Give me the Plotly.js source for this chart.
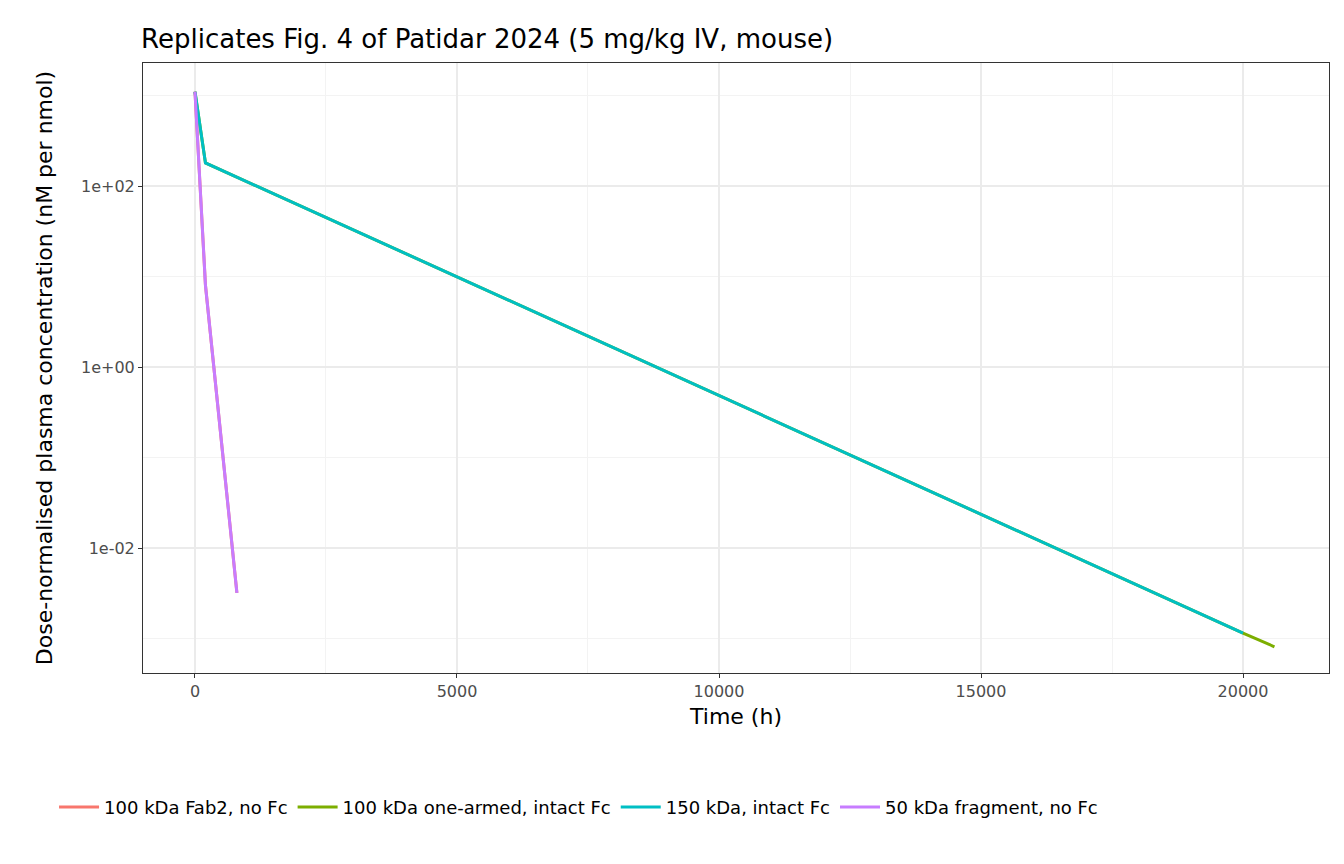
<html><head><script src="https://cdn.plot.ly/plotly-3.0.1.min.js"></script></head>
<body style="margin:0"><div id="chart" style="width:1344px;height:864px"></div>
<script>
var names = ["100 kDa Fab2, no Fc", "100 kDa one-armed, intact Fc", "150 kDa, intact Fc", "50 kDa fragment, no Fc"];
var colors = ["#F8766D", "#7CAE00", "#00BFC4", "#C77CFF"];
var tFab2 = [0, 200, 800];
var cFab2 = [1100, 8, 0.0032];
var tOneArm = [0, 200, 20000, 20600];
var cOneArm = [1100, 180, 0.00115, 0.00081];
var tIntact = [0, 200, 20000];
var cIntact = [1100, 180, 0.00115];
var tFrag = [0, 200, 800];
var cFrag = [1100, 8, 0.0032];
var xTicks = [0, 5000, 10000, 15000, 20000];

var xs = [tFab2, tOneArm, tIntact, tFrag];
var ys = [cFab2, cOneArm, cIntact, cFrag];
var data = names.map(function(n, i) {
  return {type: "scatter", mode: "lines", name: n, x: xs[i], y: ys[i],
    line: {color: colors[i], width: 3}};
});

var layout = {
  margin: {l: 143, r: 15, t: 63, b: 191, autoexpand: false},
  paper_bgcolor: "white", plot_bgcolor: "white",
  font: {family: "DejaVu Sans", size: 16, color: "#4d4d4d"},
  title: {text: "Replicates Fig. 4 of Patidar 2024 (5 mg/kg IV, mouse)", x: 0.105, xanchor: "left", y: 0.965,
    font: {size: 26, color: "black"}},
  xaxis: {range: [-992, 21641], tickvals: xTicks, ticktext: xTicks.map(String), ticks: "outside", ticklen: 4,
    tickcolor: "#333", gridcolor: "#ebebeb", gridwidth: 2, zeroline: false, showline: true, mirror: true,
    linecolor: "#333", minor: {dtick: 2500, tick0: 0, showgrid: true, gridcolor: "#f3f3f3", gridwidth: 1},
    title: {text: "Time (h)", font: {size: 22, color: "black"}, standoff: 8}},
  yaxis: {type: "log", range: [-3.381, 3.359], tickvals: [0.01, 1, 100], ticktext: ["1e-02", "1e+00", "1e+02"],
    ticks: "outside", ticklen: 4, tickcolor: "#333", gridcolor: "#ebebeb", gridwidth: 2, zeroline: false,
    showline: true, mirror: true, linecolor: "#333",
    minor: {tickvals: [0.001, 0.1, 10, 1000], showgrid: true, gridcolor: "#f3f3f3", gridwidth: 1, ticks: ""},
    title: {text: "Dose-normalised plasma concentration (nM per nmol)", font: {size: 22, color: "black"}, standoff: 22}},
  legend: {orientation: "h", x: -0.075, xanchor: "left", y: -0.19, yanchor: "top", font: {size: 18, color: "black"},
    itemwidth: 40},
  showlegend: true
};
Plotly.newPlot("chart", data, layout, {displayModeBar: false});
</script></body></html>
